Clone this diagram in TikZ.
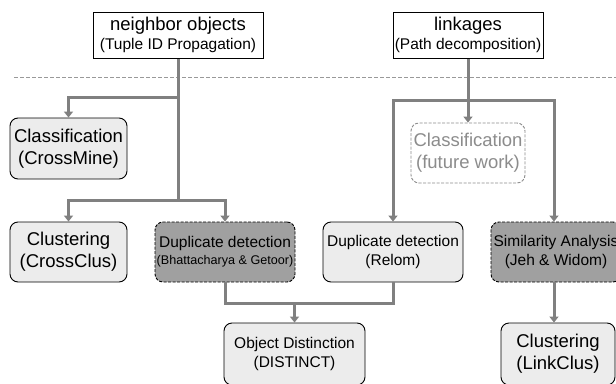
\documentclass[tikz,border=0pt]{standalone}
\usepackage{fontspec}
\setmainfont{Liberation Sans}
\usetikzlibrary{arrows.meta}
\definecolor{conn}{RGB}{128,128,128}
\definecolor{lightfill}{RGB}{236,236,236}
\definecolor{darkfill}{RGB}{160,160,160}
\definecolor{futgray}{RGB}{140,140,140}
\newcommand{\fbig}{\fontsize{18.5}{22}\selectfont}
\newcommand{\fmid}{\fontsize{15.5}{18.5}\selectfont}
\newcommand{\fsml}{\fontsize{12.6}{15}\selectfont}
\begin{document}
\begin{tikzpicture}[x=1pt,y=-1pt,
  topbox/.style={draw=black,line width=1pt,fill=white,align=center,inner sep=0pt},
  lbox/.style={draw=black,line width=0.9pt,fill=lightfill,rounded corners=8pt,align=center,inner sep=0pt},
  dbox/.style={draw=black,line width=0.9pt,fill=darkfill,dashed,dash pattern=on 3pt off 1.5pt,rounded corners=8pt,align=center,inner sep=0pt},
  fbox/.style={draw=futgray,line width=0.9pt,fill=white,dashed,dash pattern=on 3pt off 1.5pt,rounded corners=8pt,align=center,inner sep=0pt,text=futgray},
  cline/.style={draw=conn,line width=3pt},
  carrow/.style={cline,-{Triangle[width=9pt,length=6pt]}},
  sepline/.style={draw=gray!80,line width=0.8pt,dash pattern=on 4pt off 2pt}
]
\useasboundingbox (0,0) rectangle (616,383);
\clip (0,0) rectangle (616,383);
\fill[white] (0,0) rectangle (616,383);

% separator
\coordinate (sepL) at (14,77);
\coordinate (sepR) at (616,77);
\draw[sepline] (sepL) -- (sepR);

% nodes
\node[topbox,font=\fmid,minimum width=170pt,minimum height=46pt] (nb) at (178,35)
  {{\fbig neighbor objects}\\(Tuple ID Propagation)};
\node[topbox,font=\fmid,minimum width=150pt,minimum height=46pt] (lk) at (468,35)
  {{\fbig linkages}\\(Path decomposition)};

\node[lbox,font=\fbig,minimum width=117pt,minimum height=61pt] (cm) at (68.5,148.5)
  {Classification\\(CrossMine)};
\node[lbox,font=\fbig,minimum width=117pt,minimum height=60pt] (cc) at (68.5,252)
  {Clustering\\(CrossClus)};
\node[dbox,font=\fsml,minimum width=140pt,minimum height=60pt] (bg) at (225,252)
  {{\fmid Duplicate detection}\\[2pt](Bhattacharya \& Getoor)};
\node[fbox,font=\fbig,minimum width=114pt,minimum height=60pt] (fw) at (468,153)
  {Classification\\(future work)};
\node[lbox,font=\fmid,minimum width=140pt,minimum height=60pt] (rl) at (393,252)
  {Duplicate detection\\(Relom)};
\node[dbox,font=\fmid,minimum width=130pt,minimum height=60pt] (sa) at (556,252)
  {Similarity Analysis\\(Jeh \& Widom)};
\node[lbox,font=\fmid,minimum width=141pt,minimum height=62pt] (od) at (294.5,354)
  {Object Distinction\\(DISTINCT)};
\node[lbox,font=\fbig,minimum width=114pt,minimum height=62pt] (lc) at (558,354)
  {Clustering\\(LinkClus)};

% junction coordinates
\coordinate (j1) at (178,97);
\coordinate (j2) at (178,200);
\coordinate (j3) at (225,303);
\coordinate (j4) at (468,100);

% left tree
\draw[cline] (nb.south) -- (j2);
\draw[carrow] (j1) -| (cm.north);
\draw[carrow] (j2) -| (cc.north);
\draw[carrow] (j2) -| (bg.north);
\draw[cline] (bg.south) |- (j3) -| (rl.south);
\draw[carrow] (j3 -| od.north) -- (od.north);

% right tree
\draw[carrow] (lk.south) -- (fw.north);
\draw[carrow] (j4) -| (rl.north);
\draw[carrow] (j4) -| ([xshift=-2pt]sa.north);
\draw[carrow] ([xshift=-2pt]sa.south) -- ([xshift=-2pt]sa.south |- lc.north);
\end{tikzpicture}
\end{document}
